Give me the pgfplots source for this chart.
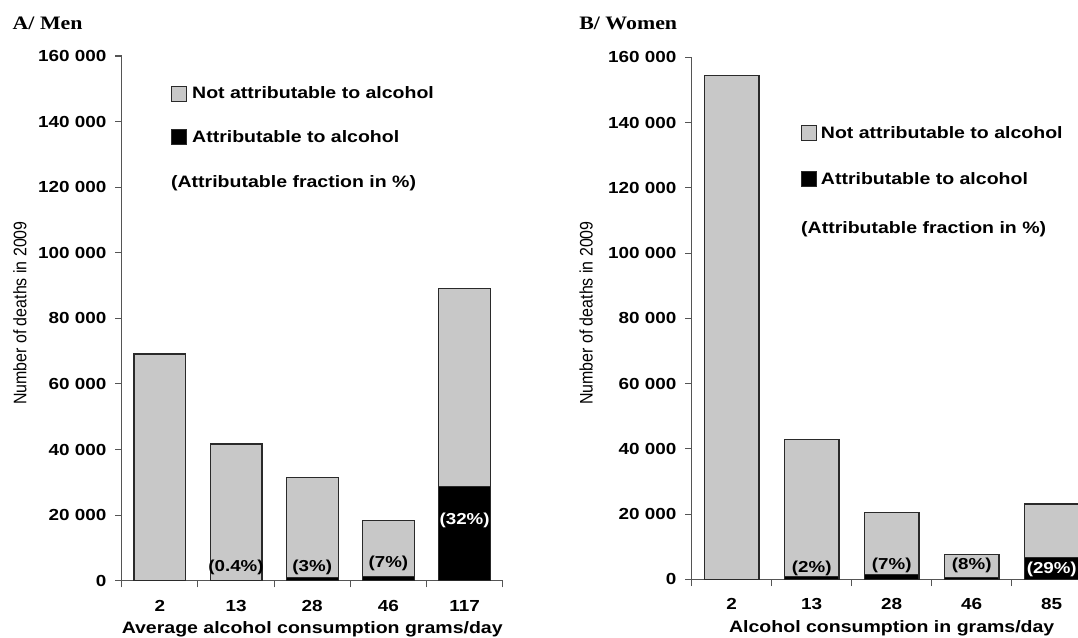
\documentclass[border=0pt]{standalone}
\usepackage{fontspec}
\setmainfont{Liberation Sans}[FakeStretch=1.18]
\newfontfamily\titlefont{Liberation Serif}[FakeStretch=1.15]
\newfontfamily\ylfont{Liberation Sans}[FakeStretch=0.88]
\usepackage{pgfplots}
\pgfplotsset{compat=1.18}
\definecolor{barfill}{HTML}{C8C8C8}
\definecolor{bardraw}{HTML}{2A2A2A}
\definecolor{axisgray}{HTML}{555555}

\tikzset{pct/.style={font=\fontsize{11.9}{14}\selectfont\bfseries, inner sep=1pt}}

\pgfplotsset{
  panel/.style={
    scale only axis, anchor=south west,
    axis x line=bottom, axis y line=left,
    axis line style={-, draw=axisgray, line width=1.1pt},
    xmin=-0.5, xmax=4.5, ymin=0, ymax=160000,
    ybar stacked, bar width=0.68,
    scaled y ticks=false,
    ytick={0,20000,40000,60000,80000,100000,120000,140000,160000},
    yticklabels={0,20 000,40 000,60 000,80 000,100 000,120 000,140 000,160 000},
    tick label style={font=\fontsize{12}{14}\selectfont\bfseries},
    tick align=outside, major tick length=5pt,
    tick style={draw=axisgray, line width=0.8pt},
    xtick={-0.5,0.5,1.5,2.5,3.5,4.5},
    xticklabels={,,,,,},
    extra x ticks={0,1,2,3,4},
    extra x tick style={major tick length=0pt, tick style={draw=none}},
    xticklabel style={yshift=-11pt},
    yticklabel style={xshift=-3pt},
    xlabel style={at={(axis description cs:0.5,0)}, anchor=center, yshift=-36.5pt,
      font=\fontsize{12.4}{15}\selectfont\bfseries},
    ylabel style={anchor=center, font=\ylfont\fontsize{13.6}{16}\selectfont},
    legend cell align=left,
    reverse legend,
    clip=false,
  },
  bar/.style={draw=bardraw, line width=0.9pt,
    legend image code/.code={\draw[##1, line width=0.8pt] (0pt,-5.5pt) rectangle (11pt,5.5pt);}},
}

\begin{document}
\begin{tikzpicture}
\path[use as bounding box] (0,0) rectangle (808.5pt,-477.75pt);
\clip (0,0) rectangle (808.5pt,-477.75pt);

\node[anchor=west, font=\titlefont\bfseries\fontsize{14.25}{16}\selectfont] at (6pt,-17.25pt) {A/ Men};
\node[anchor=west, font=\titlefont\bfseries\fontsize{14.25}{16}\selectfont] at (431pt,-17.25pt) {B/ Women};

% ---------------- Men ----------------
\begin{axis}[panel,
  at={(91.3pt,-435.5pt)}, width=285.75pt, height=393.5pt,
  extra x tick labels={2,13,28,46,117},
  xlabel={Average alcohol consumption grams/day},
  ylabel={Number of deaths in 2009},
  ylabel style={at={(axis description cs:-0.267,0.51)}},
  legend style={at={(axis description cs:0.129,0.947)}, anchor=north west,
    draw=none, fill=none, inner sep=0pt, row sep=18pt,
    nodes={inner xsep=4pt},
    font=\fontsize{12.4}{15}\selectfont\bfseries},
  after end axis/.code={
    \node[anchor=west, inner sep=0pt, font=\fontsize{12.4}{15}\selectfont\bfseries] at (axis description cs:0.129,0.758) {(Attributable fraction in \%)};
    \node[pct] at (axis cs:1,4200) {(0.4\%)};
    \node[pct] at (axis cs:2,4200) {(3\%)};
    \node[pct] at (axis cs:3,5400) {(7\%)};
    \node[pct, text=white] at (axis cs:4,18500) {(32\%)};
  },
]
\addplot[bar, fill=black] coordinates {(0,0) (1,170) (2,940) (3,1280) (4,28700)};
\addplot[bar, fill=barfill] coordinates {(0,69100) (1,41530) (2,30460) (3,17020) (4,60300)};
\addlegendentry{Attributable to alcohol}
\addlegendentry{Not attributable to alcohol}
\end{axis}

% ---------------- Women ----------------
\begin{axis}[panel,
  at={(518.8pt,-434.5pt)}, width=300pt, height=391.5pt,
  extra x tick labels={2,13,28,46,85},
  xlabel={Alcohol consumption in grams/day},
  ylabel={Number of deaths in 2009},
  ylabel style={at={(axis description cs:-0.264,0.51)}},
  legend style={at={(axis description cs:0.273,0.874)}, anchor=north west,
    draw=none, fill=none, inner sep=0pt, row sep=20pt,
    nodes={inner xsep=3pt},
    font=\fontsize{12.4}{15}\selectfont\bfseries},
  after end axis/.code={
    \node[anchor=west, inner sep=0pt, font=\fontsize{12.4}{15}\selectfont\bfseries] at (axis description cs:0.273,0.671) {(Attributable fraction in \%)};
    \node[pct] at (axis cs:1,3300) {(2\%)};
    \node[pct] at (axis cs:2,4200) {(7\%)};
    \node[pct] at (axis cs:3,4300) {(8\%)};
    \node[pct, text=white] at (axis cs:4,3100) {(29\%)};
  },
]
\addplot[bar, fill=black] coordinates {(0,0) (1,860) (2,1430) (3,600) (4,6700)};
\addplot[bar, fill=barfill] coordinates {(0,154400) (1,42040) (2,18970) (3,6900) (4,16400)};
\addlegendentry{Attributable to alcohol}
\addlegendentry{Not attributable to alcohol}
\end{axis}
\end{tikzpicture}
\end{document}
